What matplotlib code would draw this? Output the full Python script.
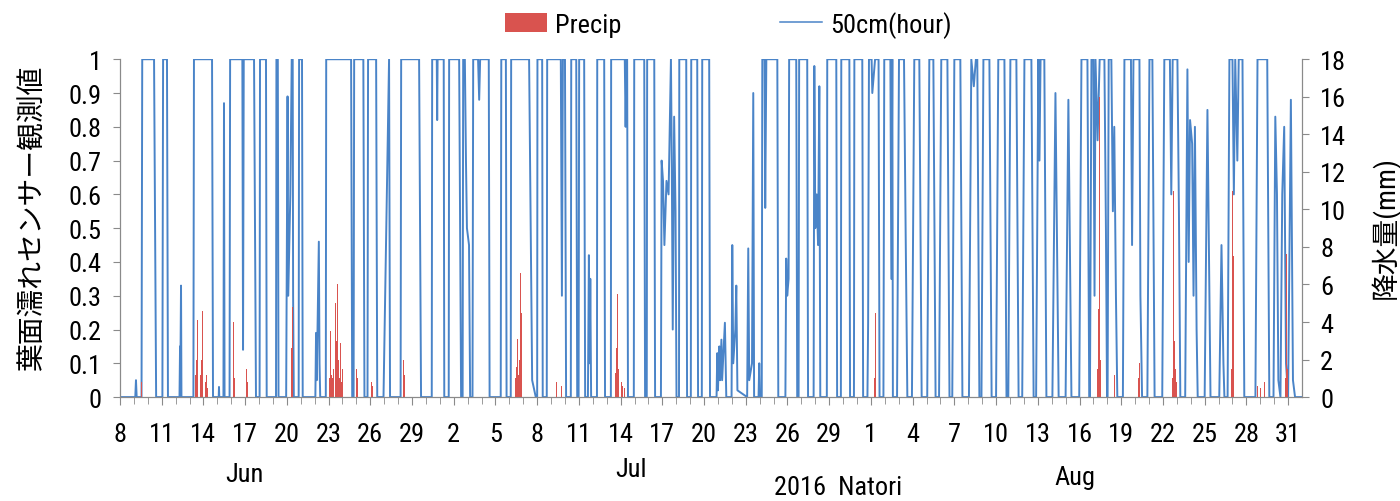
import numpy as np
import pandas as pd
import matplotlib
matplotlib.use("Agg")
import matplotlib.pyplot as plt
import matplotlib.dates as mdates
from matplotlib.patches import Patch
from matplotlib.lines import Line2D

plt.rcParams['font.family'] = ['DejaVu Sans Condensed', 'Liberation Sans Narrow', 'Roboto Condensed',
                               'Open Sans Condensed', 'Noto Sans CJK JP', 'DejaVu Sans']
plt.rcParams['font.stretch'] = 'condensed'

## Leaf wetness sensor at 50cm (hourly), line vertices -------------------------
## (day of month, sensor value), days past month end run on into next month
wet_jun = [(8.0, 0),
           (9.1, 0), (9.15, 0.05), (9.2, 0),
           (9.55, 0), (9.6, 1), (10.45, 1), (10.6, 0),
           (11.05, 0), (11.1, 1), (11.38, 1), (11.45, 0),
           (12.28, 0), (12.32, 0.15), (12.34, 0.05), (12.39, 0.33), (12.42, 0),
           (13.28, 0), (13.32, 1), (14.62, 1), (14.69, 0),
           (15.1, 0), (15.12, 0.03), (15.14, 0), (15.44, 0), (15.48, 0.87), (15.52, 0),
           (15.88, 0), (15.92, 1), (16.8, 1), (16.85, 0.14), (16.9, 1), (17.64, 1), (17.78, 0),
           (18.04, 0), (18.07, 1), (18.5, 1), (18.55, 0),
           (19.22, 0), (19.25, 1), (19.35, 1), (19.4, 0),
           (19.95, 0), (20.05, 0.89), (20.1, 0.3), (20.25, 0.6), (20.35, 1), (20.42, 1), (20.45, 0.3), (20.5, 0),
           (20.85, 0), (20.88, 1), (21.09, 1), (21.14, 0),
           (22.05, 0), (22.1, 0.19), (22.15, 0.05), (22.3, 0.46), (22.35, 0.1), (22.4, 0),
           (22.8, 0), (22.83, 1), (24.62, 1), (24.7, 0),
           (24.8, 0), (24.84, 1), (25.5, 1), (25.58, 0), (25.8, 0), (25.84, 1), (26.42, 1), (26.5, 0),
           (26.95, 0), (27.35, 1), (27.42, 0),
           (28.18, 0), (28.22, 1), (29.51, 1), (29.65, 0),
           (30.42, 0), (30.45, 1), (30.78, 1), (30.81, 0.82), (30.84, 1), (31.28, 1), (31.32, 0)]

wet_jul = [(1.64, 0), (1.67, 1), (2.39, 1), (2.53, 0),
           (2.64, 0), (2.68, 1), (2.8, 1), (2.88, 0.7), (2.95, 0.5), (3.1, 0.45), (3.18, 0),
           (3.35, 0), (3.4, 1), (3.75, 1), (3.83, 0.88), (3.9, 1), (4.52, 1), (4.58, 0),
           (5.38, 0), (5.42, 1), (5.75, 1), (5.8, 0),
           (6.1, 0), (6.13, 1), (7.42, 1), (7.64, 0.05), (7.9, 0),
           (8.0, 0), (8.02, 1), (8.36, 1), (8.4, 0),
           (8.69, 0), (8.72, 1), (9.7, 1), (9.78, 0.3), (9.85, 1), (10.0, 1), (10.08, 0),
           (10.42, 0), (10.45, 1), (10.81, 1), (10.88, 0), (10.98, 0), (11.02, 1), (11.38, 1), (11.45, 0),
           (11.65, 0), (11.72, 0.42), (11.78, 0.1), (11.82, 0.35), (11.88, 0),
           (12.3, 0), (12.32, 1), (12.82, 1), (12.88, 0),
           (13.3, 0), (13.32, 1), (14.3, 1), (14.36, 0.8), (14.42, 1), (14.47, 1), (14.53, 0),
           (14.95, 0), (14.98, 1), (15.7, 1), (15.76, 0),
           (15.88, 0), (15.91, 1), (16.42, 1), (16.48, 0),
           (16.9, 0), (16.95, 0.7), (17.05, 0.64), (17.15, 0.45), (17.3, 0.64), (17.45, 0.6),
           (17.62, 1), (17.68, 0.7), (17.75, 0.2), (17.85, 0.83), (17.95, 0.55), (18.02, 0),
           (18.2, 0), (18.22, 1), (18.72, 1), (18.78, 0),
           (19.05, 0), (19.08, 1), (19.51, 1), (19.57, 0),
           (19.84, 0), (19.87, 1), (20.37, 1), (20.43, 0),
           (20.9, 0), (20.95, 0.13), (21.0, 0.02), (21.1, 0.15), (21.15, 0.05), (21.25, 0.17), (21.3, 0.05), (21.5, 0.22), (21.6, 0),
           (21.98, 0), (22.03, 0.45), (22.1, 0.1), (22.25, 0.2), (22.32, 0.33), (22.4, 0.02),
           (23.1, 0), (23.18, 0.44), (23.25, 0.05), (23.45, 0.1), (23.54, 0.9), (23.6, 0),
           (23.92, 0), (23.97, 0.1), (24.02, 0),
           (24.15, 0), (24.19, 1), (24.35, 1), (24.4, 0.56), (24.48, 1), (25.27, 1), (25.34, 0),
           (25.85, 0), (25.91, 0.41), (25.98, 0.3), (26.08, 0.35), (26.12, 1), (26.63, 1), (26.7, 0),
           (26.8, 0), (26.84, 1), (27.42, 1), (27.48, 0),
           (27.88, 0), (27.93, 0.98), (28.0, 0.5), (28.1, 0.6), (28.2, 0.45), (28.29, 0.92), (28.36, 0),
           (28.83, 0), (28.86, 1), (29.51, 1), (29.57, 0),
           (29.84, 0), (29.87, 1), (30.45, 1), (30.5, 0),
           (30.78, 0), (30.81, 1), (31.38, 1), (31.44, 0),
           (31.75, 0), (31.8, 0.22), (31.83, 0.59), (31.86, 1), (32.05, 1), (32.1, 0.9), (32.3, 1), (32.55, 1), (32.62, 0)]

wet_aug = [(1.9, 0), (1.96, 1), (2.4, 1), (2.47, 0.35), (2.54, 1), (2.58, 0),
           (2.88, 0), (3.02, 1), (3.38, 1), (3.5, 0.48), (3.62, 0),
           (3.95, 0), (4.12, 1), (4.48, 1), (4.65, 0),
           (5.05, 0), (5.2, 1), (5.49, 1), (5.65, 0),
           (5.9, 0), (6.06, 1), (6.5, 1), (6.65, 0),
           (6.85, 0), (7.0, 1), (7.43, 1), (7.58, 0),
           (8.05, 0), (8.22, 1), (8.4, 0.92), (8.55, 1), (8.65, 1), (8.8, 0),
           (8.95, 0), (9.09, 1), (9.52, 1), (9.68, 0),
           (10.0, 0), (10.16, 1), (10.6, 1), (10.75, 0),
           (10.88, 0), (11.03, 1), (11.46, 1), (11.62, 0),
           (11.88, 0), (12.04, 1), (12.54, 1), (12.7, 0),
           (12.88, 0), (13.04, 1), (13.12, 0.7), (13.2, 1), (13.47, 1), (13.62, 0),
           (14.05, 0), (14.27, 0.9), (14.5, 0),
           (15.0, 0), (15.2, 0.88), (15.42, 0),
           (15.98, 0), (16.14, 1), (16.57, 1), (16.7, 0),
           (16.75, 0), (16.86, 1), (17.0, 1), (17.08, 0.3), (17.15, 1), (17.3, 0.76), (17.45, 1), (17.79, 1), (17.9, 0.5), (17.98, 0),
           (18.02, 0), (18.1, 1), (18.29, 1), (18.4, 0.55), (18.5, 0.8), (18.62, 0.3), (18.72, 0),
           (19.12, 0), (19.23, 1), (19.7, 1), (19.78, 0.45), (19.88, 1), (20.31, 1), (20.38, 0.3), (20.5, 0),
           (20.88, 0), (21.03, 1), (21.24, 1), (21.4, 0),
           (21.95, 0), (22.1, 1), (22.5, 1), (22.6, 0.6), (22.7, 1), (23.04, 1), (23.15, 0.55), (23.25, 0),
           (23.6, 0), (23.76, 0.97), (23.85, 0.4), (23.95, 0.82), (24.1, 0.75), (24.2, 0.3), (24.3, 0.8), (24.42, 0.2), (24.5, 0),
           (25.0, 0), (25.2, 0.85), (25.42, 0),
           (26.05, 0), (26.21, 0.45), (26.35, 0.1), (26.42, 0),
           (26.65, 0), (26.78, 1), (27.0, 1), (27.1, 0.6), (27.2, 1), (27.35, 0.7), (27.45, 1), (27.72, 1), (27.85, 0),
           (28.65, 0), (28.8, 1), (29.5, 1), (29.65, 0),
           (29.95, 0), (30.08, 0.83), (30.2, 0.6), (30.3, 0.05), (30.45, 0), (30.58, 0.6), (30.72, 0.8), (30.85, 0.1),
           (31.0, 0), (31.2, 0.88), (31.35, 0.05), (31.5, 0),
           (31.99, 0)]

## Hourly precipitation (day of month, mm) -------------------------------------
rain_jun = [(9.45, 1.0), (9.5, 4.8), (9.55, 0.8),
            (13.4, 0.8), (13.45, 1.2), (13.5, 2.0), (13.56, 4.1), (13.62, 1.5), (13.68, 3.1), (13.74, 1.7),
            (13.8, 1.2), (13.86, 2.0), (13.92, 4.6), (13.98, 1.3), (14.04, 2.6), (14.1, 1.0), (14.16, 0.8),
            (14.22, 1.2), (14.3, 0.5),
            (16.15, 4.0), (16.2, 2.0), (16.25, 1.0), (17.1, 1.5), (17.15, 0.8),
            (20.3, 1.2), (20.35, 2.6), (20.4, 4.8), (20.45, 1.0),
            (23.05, 1.0), (23.1, 1.5), (23.15, 3.5), (23.2, 1.2), (23.25, 2.0), (23.3, 1.0), (23.35, 1.5),
            (23.4, 1.0), (23.45, 2.2), (23.5, 5.0), (23.55, 3.0), (23.6, 1.5), (23.65, 6.0), (23.7, 2.0),
            (23.75, 1.2), (23.8, 1.0), (23.85, 2.9), (23.9, 1.0), (23.95, 0.8), (24.0, 1.5), (24.05, 0.6),
            (25.0, 1.5), (25.05, 4.0), (25.1, 1.0),
            (26.1, 0.8), (26.15, 0.6),
            (28.35, 1.0), (28.4, 2.0), (28.45, 1.2), (28.5, 0.8)]

rain_jul = [(6.45, 1.0), (6.5, 1.6), (6.58, 3.1), (6.65, 1.2), (6.72, 2.0), (6.8, 6.6), (6.86, 4.5),
            (6.92, 1.5), (6.98, 1.2), (7.05, 0.8), (7.12, 0.5),
            (9.4, 0.8), (9.5, 1.1), (9.65, 1.1), (9.75, 0.6),
            (13.6, 1.0), (13.65, 1.3), (13.72, 2.6), (13.78, 5.5), (13.84, 1.5), (13.9, 1.3), (13.96, 1.0),
            (14.05, 0.8), (14.15, 0.6), (14.3, 0.5),
            (32.25, 1.0), (32.32, 4.5)]

rain_aug = [(9.0, 2.5),
            (17.3, 1.5), (17.36, 4.7), (17.43, 16.0), (17.5, 2.0), (17.56, 1.0), (17.62, 0.6),
            (18.51, 1.2),
            (20.25, 1.0), (20.31, 1.8),
            (22.7, 1.0), (22.76, 11.0), (22.82, 3.0), (22.9, 1.5), (22.96, 0.8),
            (25.1, 1.0), (25.16, 2.5),
            (26.95, 1.5), (27.0, 11.0), (27.06, 7.5), (27.12, 2.0), (27.18, 1.0), (27.25, 0.6),
            (28.8, 0.6), (29.0, 0.5), (29.3, 0.8),
            (30.8, 1.0), (30.84, 2.5), (30.88, 7.6), (30.94, 1.5), (31.0, 0.5)]


def to_num(month, pairs):
    """ (day of month, value) pairs -> matplotlib date numbers, values """
    d = np.array([p[0] for p in pairs], dtype=float)
    v = np.array([p[1] for p in pairs], dtype=float)
    t = pd.Timestamp(2016, month, 1) + pd.to_timedelta(d - 1, unit='D')
    return mdates.date2num(t.values), v


wet = [to_num(m, p) for m, p in [(6, wet_jun), (7, wet_jul), (8, wet_aug)]]
wet_t = np.concatenate([w[0] for w in wet])
wet_v = np.concatenate([w[1] for w in wet])
rain = [to_num(m, p) for m, p in [(6, rain_jun), (7, rain_jul), (8, rain_aug)]]
rain_t = np.concatenate([r[0] for r in rain])
rain_v = np.concatenate([r[1] for r in rain])

blue = '#4a84c8'
red = '#d9534f'
grey = '#8a8a8a'
fs = 19

fig = plt.figure(figsize=(14, 5.02), dpi=100)
ax = fig.add_axes([0.0857, 0.207, 0.8443, 0.673])
ax.plot(wet_t, wet_v, color=blue, lw=1.4)
ax2 = ax.twinx()
ax2.bar(rain_t, rain_v, width=1/24, color=red, lw=0)

t0 = mdates.date2num(np.datetime64('2016-06-08'))
t1 = mdates.date2num(np.datetime64('2016-09-01'))
ax.set_xlim(t0, t1)
ax.set_ylim(0, 1)
ax2.set_ylim(0, 18)

major = pd.date_range('2016-06-08', '2016-08-31', freq='3D')
ax.set_xticks(mdates.date2num(major.values))
ax.set_xticklabels([str(d.day) for d in major])
ax.set_xticks(mdates.date2num(pd.date_range('2016-06-08', '2016-08-31', freq='D').values), minor=True)
yt = np.round(np.arange(0, 1.01, 0.1), 1)
ax.set_yticks(yt)
ax.set_yticklabels(['{:g}'.format(v) for v in yt])
ax2.set_yticks(range(0, 19, 2))

for a in (ax, ax2):
    a.spines['top'].set_visible(False)
    for s in a.spines.values():
        s.set_color(grey)
    a.tick_params(which='both', direction='out', color=grey, labelsize=fs)
ax.tick_params(axis='x', which='major', length=6, pad=12)
ax.tick_params(axis='x', which='minor', length=5)
ax.tick_params(axis='y', length=5, pad=8)
ax2.tick_params(axis='y', length=5, pad=8)

fig.text(0.024, 0.565, '葉面濡れセンサー観測値', rotation=90, ha='center', va='center', fontsize=20)
fig.text(0.989, 0.546, '降水量(mm)', rotation=90, ha='center', va='center', fontsize=20)

fig.text(244/1400, 0.054, 'Jun', ha='center', va='center', fontsize=fs)
fig.text(631/1400, 0.064, 'Jul', ha='center', va='center', fontsize=fs)
fig.text(1075/1400, 0.048, 'Aug', ha='center', va='center', fontsize=fs)
fig.text(838/1400, 0.028, '2016  Natori', ha='center', va='center', fontsize=fs)

handles = [Patch(color=red, lw=0), Line2D([], [], color=blue, lw=1.1)]
fig.legend(handles, ['Precip', '50cm(hour)'], loc='center', bbox_to_anchor=(0.52, 0.95),
           ncol=2, frameon=False, fontsize=fs, handlelength=1.6, handletextpad=0.3,
           columnspacing=6)

fig.savefig('out.png', dpi=100)
